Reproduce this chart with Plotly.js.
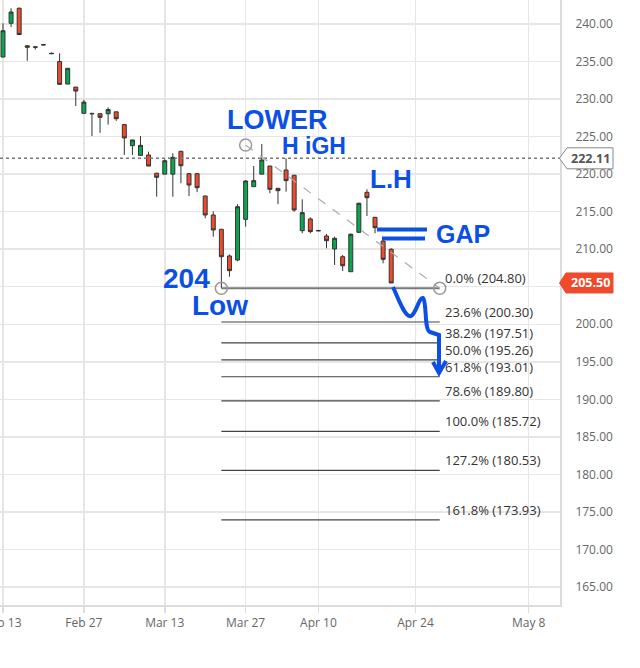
<!DOCTYPE html>
<html><head><meta charset="utf-8">
<script src="https://cdn.plot.ly/plotly-3.0.1.min.js"></script>
<style>html,body{margin:0;padding:0;background:#fff;}#chart{width:640px;height:668px;}</style>
</head><body><div id="chart"></div>
<script>
// ---- data (trading-day index, OHLC) ----
const candleIndex = [0,1,2,3,4,5,6,7,8,9,10,11,12,13,14,15,16,17,18,19,20,21,22,23,24,25,26,27,28,29,30,31,32,33,34,35,36,37,38,39,40,41,42,43,44,45,46,47,48];
const openPrices  = [235.6,240.1,242.1,237.1,236.9,237.2,236.1,235.0,232.0,231.6,228.1,228.1,228.05,228.05,228.3,226.6,223.8,222.5,222.55,220.11,220.0,220.0,223.04,220.06,220.06,217.09,214.56,212.65,209.1,208.56,213.98,218.33,220.0,221.08,218.11,220.55,219.85,212.47,214.03,212.5,211.76,210.03,209.0,207.0,212.25,217.58,214.25,211.09,209.99];
const highPrices  = [240.1,242.1,242.2,237.2,237.0,237.3,236.2,236.1,234.1,231.6,229.9,228.15,228.1,228.9,228.3,226.6,224.6,225.07,222.99,220.2,221.98,222.78,223.1,220.1,220.1,217.1,215.05,212.7,209.3,216.0,219.2,221.08,224.01,221.1,218.15,222.11,219.9,216.65,214.25,212.5,212.03,211.67,209.23,212.1,216.2,217.98,214.3,211.45,210.12];
const lowPrices   = [235.6,239.6,238.6,235.1,236.6,237.15,236.0,231.96,232.0,229.07,228.1,225.07,225.5,226.6,227.1,222.55,222.55,222.5,221.08,217.0,220.0,217.0,218.78,217.08,217.6,214.12,211.67,204.8,206.34,208.4,213.0,218.3,220.0,217.45,216.0,217.66,215.0,212.12,212.12,212.45,210.12,207.9,207.1,207.0,212.2,214.42,212.12,208.12,205.5];
const closePrices = [239.1,241.6,238.6,236.9,236.95,237.25,236.05,231.96,234.1,231.07,229.6,228.05,227.57,228.6,227.39,224.82,224.55,223.84,221.08,219.58,221.79,222.24,221.12,218.55,218.2,214.56,212.56,209.0,207.14,215.66,219.09,219.13,221.88,217.98,217.8,219.13,215.22,214.87,212.34,212.45,211.13,211.45,207.8,211.99,216.12,216.86,212.87,208.65,205.5];

const dateTickPositions = [0,10,20,30,39,51,65];
const dateTickLabels = ['Feb 13','Feb 27','Mar 13','Mar 27','Apr 10','Apr 24','May 8'];

// price axis ticks (205.00 sits under the last-price tag)
const priceTickValues = [165,170,175,180,185,190,195,200,205,210,215,220,225,230,235,240];
const priceTickLabels = ['165.00','170.00','175.00','180.00','185.00','190.00','195.00','200.00','','210.00','215.00','220.00','225.00','230.00','235.00','240.00'];

const fibRatios = ['0.0%','23.6%','38.2%','50.0%','61.8%','78.6%','100.0%','127.2%','161.8%'];
const fibValues = [204.80,200.30,197.51,195.26,193.01,189.80,185.72,180.53,173.93];
const fibLowIdx = 27, fibHighIdx = 30, fibEndIdx = 54;
const fibSwingHigh = 223.88, fibSwingLow = 204.80;

const lastPrice = 205.50;
const refPrice = 222.11;

// ---- layout helpers (plot area 560 x 605 px) ----
const PW = 560, PH = 605;
const px = x => x / PW;
const py = y => 1 - y / PH;
const BLUE = '#0b4fe4';

const candle = {
  type: 'candlestick',
  x: candleIndex, open: openPrices, high: highPrices, low: lowPrices, close: closePrices,
  increasing: {line: {color: '#333', width: 1}, fillcolor: '#0aa54d'},
  decreasing: {line: {color: '#333', width: 1}, fillcolor: '#ef4a2b'},
  whiskerwidth: 0, showlegend: false, hoverinfo: 'skip'
};

const shapes = [];
shapes.push({type:'line', xref:'paper', x0:0, x1:1, yref:'y', y0:refPrice, y1:refPrice,
  line:{color:'#777', width:1.5, dash:'dot'}});
fibValues.forEach((v,i) => {
  shapes.push({type:'line', xref:'x', yref:'y', x0:fibLowIdx, x1:fibEndIdx, y0:v, y1:v,
    line:{color: i===0 ? '#7a7a7a' : '#444', width: i===0 ? 2 : 1.2}});
});
shapes.push({type:'line', xref:'x', yref:'y', x0:fibHighIdx, y0:fibSwingHigh, x1:fibEndIdx, y1:fibSwingLow,
  line:{color:'#aaa', width:1.2, dash:'dash'}});
[[fibLowIdx, fibSwingLow],[fibHighIdx, fibSwingHigh],[fibEndIdx, fibSwingLow]].forEach(p => {
  shapes.push({type:'circle', xref:'x', yref:'y', xsizemode:'pixel', ysizemode:'pixel',
    xanchor:p[0], yanchor:p[1], x0:-6, x1:6, y0:-6, y1:6,
    line:{color:'#999', width:1.5}, fillcolor:'rgba(255,255,255,0)'});
});
shapes.push({type:'path', xref:'paper', yref:'y', xsizemode:'pixel', ysizemode:'pixel',
  xanchor:1, yanchor:refPrice, path:'M-0.5,0 L7,10.5 L53,10.5 L53,-10.5 L7,-10.5 Z',
  fillcolor:'#ffffff', line:{color:'#888', width:1}, layer:'above'});
shapes.push({type:'path', xref:'paper', yref:'y', xsizemode:'pixel', ysizemode:'pixel',
  xanchor:1, yanchor:lastPrice, path:'M-0.5,0 L6,10 L53,10 L53,-10 L6,-10 Z',
  fillcolor:'#ef4a2b', line:{color:'#ef4a2b', width:1}, layer:'above'});

// hand-drawn marks (pixel positions within plot area)
const P = (x,y) => px(x).toFixed(5) + ',' + py(y).toFixed(5);
shapes.push({type:'line', xref:'paper', yref:'paper', x0:px(377), x1:px(427), y0:py(229.5), y1:py(229.5),
  line:{color:BLUE, width:4}});
shapes.push({type:'line', xref:'paper', yref:'paper', x0:px(382), x1:px(425), y0:py(238.5), y1:py(238.5),
  line:{color:BLUE, width:4}});
shapes.push({type:'path', xref:'paper', yref:'paper',
  path:'M'+P(393,287)+' C'+P(398,298)+' '+P(405,318)+' '+P(411,316)+
       ' C'+P(416,314)+' '+P(419,297)+' '+P(423,298)+
       ' C'+P(427,302)+' '+P(424,330)+' '+P(430,332)+
       ' L'+P(439,335)+' L'+P(439,372),
  line:{color:BLUE, width:4}});
shapes.push({type:'path', xref:'paper', yref:'paper',
  path:'M'+P(433,362)+' L'+P(439,373)+' L'+P(446,361),
  line:{color:BLUE, width:4}});

const annotations = [];
const tickFont = {family:'Open Sans, Liberation Sans, sans-serif', size:12, color:'#666'};
fibValues.forEach((v,i) => {
  annotations.push({xref:'x', yref:'y', x:fibEndIdx, y:v, xanchor:'left', yanchor:'middle',
    xshift:3, yshift:10, showarrow:false,
    text: fibRatios[i] + ' (' + v.toFixed(2) + ')',
    font:{family:'Open Sans, Liberation Sans, sans-serif', size:13, color:'#333'}});
});
annotations.push({xref:'paper', yref:'y', x:1, y:refPrice, xanchor:'center', yanchor:'middle', xshift:30,
  showarrow:false, text:'<b>' + refPrice.toFixed(2) + '</b>',
  font:{family:'Open Sans, Liberation Sans, sans-serif', size:12.5, color:'#555'}});
annotations.push({xref:'paper', yref:'y', x:1, y:lastPrice, xanchor:'center', yanchor:'middle', xshift:30,
  showarrow:false, text:'<b>' + lastPrice.toFixed(2) + '</b>',
  font:{family:'Open Sans, Liberation Sans, sans-serif', size:12.5, color:'#fff'}});

const hand = {family:'Liberation Sans Narrow, Liberation Sans, sans-serif', color:BLUE};
const handNotes = [
  ['<b>LOWER</b>', 277, 120, 27],
  ['<b>H iGH</b>', 314, 146, 23],
  ['<b>L.H</b>', 391, 179, 26],
  ['<b>GAP</b>', 463, 234, 25],
  ['<b>204</b>', 186, 278, 28],
  ['<b>Low</b>', 220, 305, 28]
];
handNotes.forEach(n => {
  annotations.push({xref:'paper', yref:'paper', x:px(n[1]), y:py(n[2]), xanchor:'center', yanchor:'middle',
    showarrow:false, text:n[0], font:Object.assign({size:n[3]}, hand)});
});

const layout = {
  width:640, height:668,
  margin:{l:0, r:80, t:0, b:63, pad:0},
  paper_bgcolor:'#fff', plot_bgcolor:'#fff',
  showlegend:false,
  xaxis:{
    range:[-0.37, 68.87], tickmode:'array', tickvals:dateTickPositions, ticktext:dateTickLabels,
    showgrid:true, gridcolor:'#e6e6e6', gridwidth:1.5, zeroline:false,
    showline:true, linecolor:'#dcdcdc', linewidth:2,
    ticks:'outside', ticklen:6, tickcolor:'#dcdcdc', tickwidth:1.5,
    ticklabeloverflow:'allow',
    tickfont:tickFont, rangeslider:{visible:false}, automargin:false, fixedrange:true
  },
  yaxis:{
    side:'right', range:[162.6, 243.2], tickmode:'array', tickvals:priceTickValues, ticktext:priceTickLabels,
    showgrid:true, gridcolor:'#e6e6e6', gridwidth:1.5, zeroline:false,
    showline:true, linecolor:'#dcdcdc', linewidth:2,
    ticks:'', ticklabelstandoff:11, tickfont:tickFont, automargin:false, fixedrange:true
  },
  shapes: shapes,
  annotations: annotations
};

Plotly.newPlot('chart', [candle], layout, {displayModeBar:false, staticPlot:true});
</script></body></html>
